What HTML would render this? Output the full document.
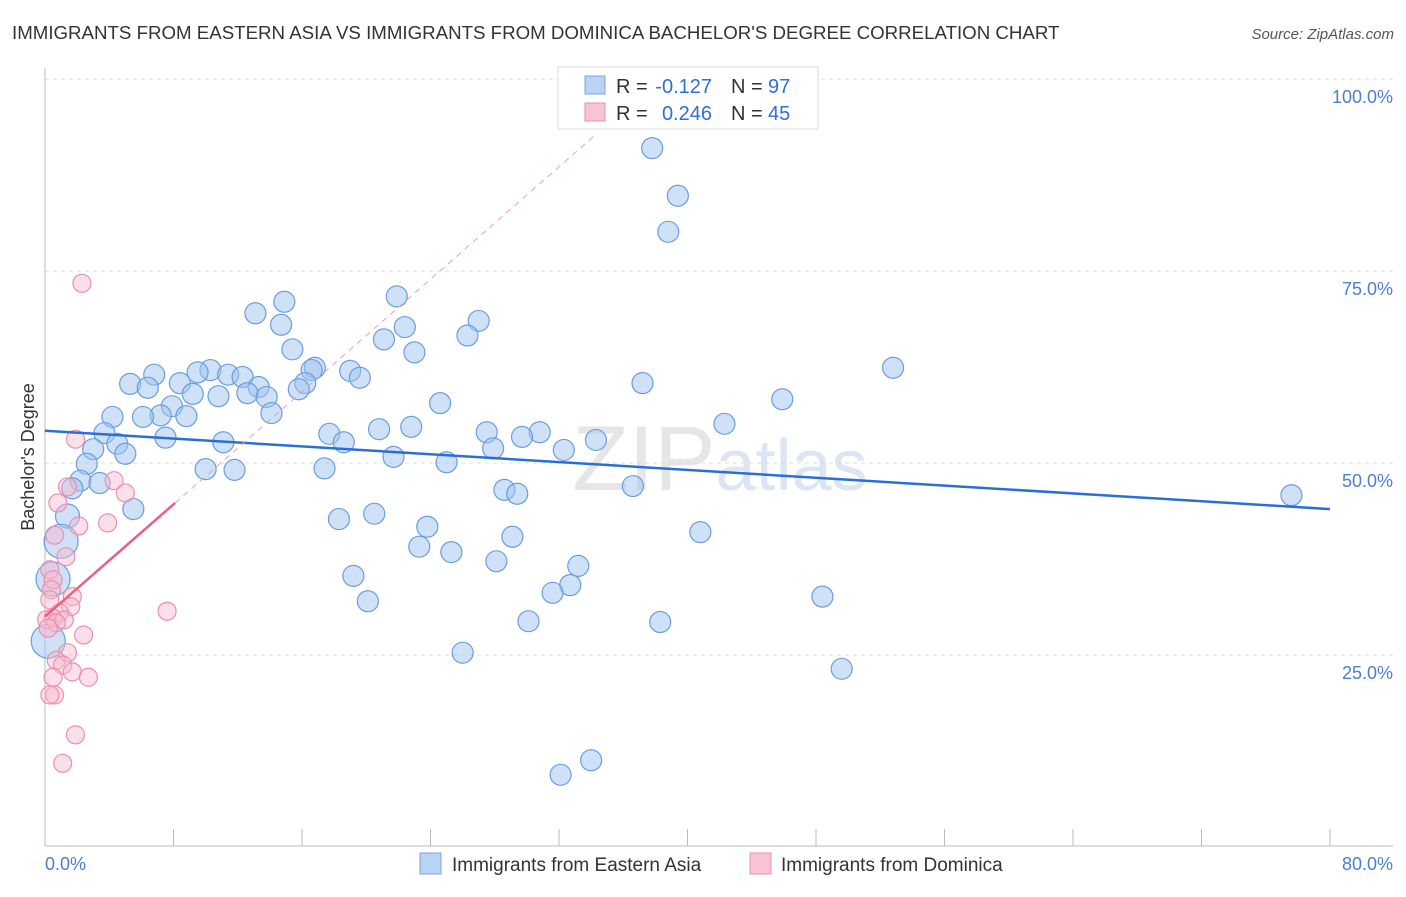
<!DOCTYPE html>
<html><head><meta charset="utf-8"><style>
body{margin:0;background:#fff;font-family:"Liberation Sans",sans-serif;}
svg text{font-family:"Liberation Sans",sans-serif;}
</style></head><body>
<svg id="c" width="1406" height="892" xmlns="http://www.w3.org/2000/svg">
<text x="12" y="39" font-size="18.7" fill="#333">IMMIGRANTS FROM EASTERN ASIA VS IMMIGRANTS FROM DOMINICA BACHELOR'S DEGREE CORRELATION CHART</text>
<text x="1394" y="39" font-size="15" fill="#555" font-style="italic" text-anchor="end">Source: ZipAtlas.com</text>
<text x="720" y="490" font-size="92" fill="#e6e6e6" font-family="Liberation Serif" text-anchor="middle">ZIP<tspan fill="#dbe5f3" font-family="Liberation Sans" font-size="72">atlas</tspan></text>
<g id="grid"></g>
<g id="pts"></g>
<g id="lines"></g>
<text transform="translate(34,457) rotate(-90)" font-size="18" fill="#333" text-anchor="middle">Bachelor's Degree</text>
<text x="45" y="870" font-size="18" fill="#4a7fd0">0.0%</text>
<text x="1393" y="870" font-size="18" fill="#4a7fd0" text-anchor="end">80.0%</text>
<g>
<rect x="558" y="67" width="260" height="62" fill="#fff" stroke="#ddd"/>
<rect x="585" y="76" width="20" height="18" fill="#b9d3f3" stroke="#7aa6e0"/>
<rect x="585" y="103" width="20" height="18" fill="#f8c4d3" stroke="#eb8fab"/>
<text x="616" y="93" font-size="20" fill="#333">R =</text>
<text x="712" y="93" font-size="20" fill="#2f6fd6" text-anchor="end">-0.127</text>
<text x="731" y="93" font-size="20" fill="#333">N =</text>
<text x="768" y="93" font-size="20" fill="#2f6fd6">97</text>
<text x="616" y="120" font-size="20" fill="#333">R =</text>
<text x="712" y="120" font-size="20" fill="#2f6fd6" text-anchor="end">0.246</text>
<text x="731" y="120" font-size="20" fill="#333">N =</text>
<text x="768" y="120" font-size="20" fill="#2f6fd6">45</text>
</g>
<g>
<rect x="420" y="853" width="21" height="21" fill="#b9d3f3" stroke="#7aa6e0"/>
<text x="452" y="871" font-size="19" fill="#333">Immigrants from Eastern Asia</text>
<rect x="750" y="853" width="21" height="21" fill="#f8c4d3" stroke="#eb8fab"/>
<text x="781" y="871" font-size="19" fill="#333">Immigrants from Dominica</text>
</g>
</svg>
<script>
const yTicks=[25,50,75,100];
const yTickLabels=["25.0%","50.0%","75.0%","100.0%"];
const xTicks=[0,8,16,24,32,40,48,56,64,72,80];
const blueX=[37.8,39.4,38.8,21.9,14.9,13.1,14.7,27.0,22.4,26.3,21.1,23.0,15.4,16.8,16.6,19.0,52.8,10.3,9.5,11.4,12.3,6.8,19.6,5.3,8.4,16.2,37.2,6.4,13.3,15.8,9.2,10.8,12.6,13.8,45.9,24.6,7.9,7.2,4.2,6.1,8.8,14.1,42.3,20.8,22.8,3.7,17.7,27.5,30.8,29.7,7.5,34.3,18.6,11.1,4.5,3.0,27.9,32.3,5.0,21.7,25.0,2.6,17.4,10.0,11.8,2.2,3.4,1.7,36.6,28.6,29.4,77.6,5.5,1.4,18.3,20.5,23.8,40.8,29.1,1.0,23.3,25.3,28.1,33.2,19.2,0.5,32.7,31.6,48.4,20.1,30.1,38.3,0.2,26.0,49.6,34.0,32.1];
const blueY=[91.0,84.8,80.1,71.7,71.0,69.5,68.0,68.5,67.7,66.6,66.1,64.4,64.8,62.4,62.1,62.0,62.4,62.1,61.8,61.5,61.2,61.5,61.1,60.3,60.4,60.4,60.4,59.8,59.9,59.6,59.0,58.7,59.1,58.6,58.3,57.8,57.4,56.2,56.0,56.0,56.1,56.5,55.1,54.4,54.7,53.9,53.8,54.0,54.0,53.4,53.3,53.0,52.7,52.7,52.5,51.8,51.9,51.7,51.2,50.8,50.1,49.9,49.3,49.2,49.1,47.7,47.4,46.7,47.0,46.5,46.0,45.8,44.0,43.1,42.7,43.4,41.7,41.0,40.4,39.8,39.1,38.4,37.2,36.6,35.3,34.9,34.1,33.1,32.6,32.0,29.4,29.3,26.8,25.3,23.2,11.3,9.4];
const bigIdx=[79,85,92,73];
const pinkX=[2.3,1.9,1.4,4.3,5.0,0.8,3.9,2.1,0.6,1.3,0.3,0.5,0.4,1.7,1.6,7.6,0.9,0.5,1.2,0.1,0.7,2.4,1.4,0.7,1.1,1.7,2.7,0.5,0.6,0.3,1.9,1.1,0.3,0.2];
const pinkY=[73.4,53.1,46.9,47.7,46.1,44.8,42.2,41.8,40.6,37.8,36.1,34.8,33.5,32.6,31.3,30.7,30.5,29.8,29.6,29.6,29.2,27.6,25.3,24.3,23.7,22.8,22.1,22.1,19.8,19.8,14.6,10.9,32.2,28.5];
const blueTrendX=[0,80], blueTrendY=[54.2,44.0];
const pinkTrendX=[0,8.1], pinkTrendY=[30.0,44.8];
const pinkDashX=[8.1,34.2], pinkDashY=[44.8,92.6];

const X0=45,X1=1330,Y0=847,Y100=79;
const sx=v=>X0+(v/80)*(X1-X0);
const sy=v=>Y0-(v/100)*(Y0-Y100);
const NS="http://www.w3.org/2000/svg";
function mk(tag,attrs,parent){const e=document.createElementNS(NS,tag);for(const k in attrs)e.setAttribute(k,attrs[k]);parent.appendChild(e);return e;}
const grid=document.getElementById('grid');
yTicks.forEach((t,i)=>{
 const l=mk('line',{x1:45,x2:1393,y1:sy(t),y2:sy(t),stroke:'#ddd','stroke-dasharray':'4,4'},grid);
 
 
 const tx=mk('text',{x:1393,y:sy(t)+24,'font-size':18,fill:'#4a7fd0','text-anchor':'end'},grid);
 tx.textContent=yTickLabels[i];
 
 
});
const ax=mk('line',{x1:45,x2:45,y1:68,y2:846,stroke:'#bbb'},grid);


const bx=mk('line',{x1:45,x2:1393,y1:846,y2:846,stroke:'#bbb'},grid);


xTicks.forEach(t=>{
 const l=mk('line',{x1:sx(t),x2:sx(t),y1:829,y2:846,stroke:'#bbb'},grid);
 
 
});
const pts=document.getElementById('pts');
blueX.forEach((v,i)=>{
 const r=bigIdx.indexOf(i)===0||bigIdx.indexOf(i)===1||bigIdx.indexOf(i)===2?17:(bigIdx.indexOf(i)===3?12:10.5);
 const c=mk('circle',{cx:sx(v),cy:sy(blueY[i]),r:r,fill:'rgba(160,195,240,0.5)',stroke:'#6a9de0','stroke-width':1.2},pts);
 
 
});
pinkX.forEach((v,i)=>{
 const c=mk('circle',{cx:sx(v),cy:sy(pinkY[i]),r:9,fill:'rgba(248,185,205,0.45)',stroke:'#ec8fae','stroke-width':1.2},pts);
 
 
});
const lines=document.getElementById('lines');
const bl=mk('line',{x1:sx(blueTrendX[0]),y1:sy(blueTrendY[0]),x2:sx(blueTrendX[1]),y2:sy(blueTrendY[1]),stroke:'#2a6fd6','stroke-width':2.5},lines);


const pd=mk('line',{x1:sx(pinkDashX[0]),y1:sy(pinkDashY[0]),x2:sx(pinkDashX[1]),y2:sy(pinkDashY[1]),stroke:'#e8a0b8','stroke-width':1,'stroke-dasharray':'6,5'},lines);


const pl=mk('line',{x1:sx(pinkTrendX[0]),y1:sy(pinkTrendY[0]),x2:sx(pinkTrendX[1]),y2:sy(pinkTrendY[1]),stroke:'#e8608a','stroke-width':2.5},lines);


</script>
</body></html>
